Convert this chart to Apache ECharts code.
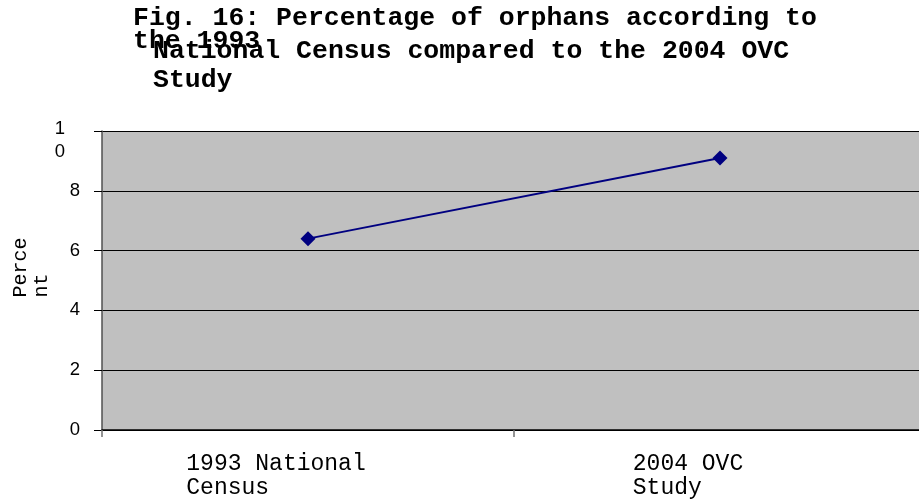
<!DOCTYPE html>
<html>
<head>
<meta charset="utf-8">
<script src="https://cdn.jsdelivr.net/npm/echarts@6/dist/echarts.min.js"></script>
<style>html,body{margin:0;padding:0;background:#fff;}#c{width:919px;height:499px;}</style>
</head>
<body>
<div id="c"></div>
<script>
var titleLine1 = 'Fig. 16: Percentage of orphans according to';
var titleLine2 = 'the 1993';
var titleLine3 = 'National Census compared to the 2004 OVC\nStudy';
var categories = ['1993 National Census', '2004 OVC Study'];
var xTickLabels = ['1993 National\nCensus', '2004 OVC\nStudy'];
var percentValues = [6.4, 9.1];
var yAxisName = 'Perce\nnt';

function padLines(s) {
  var lines = s.split('\n');
  var n = Math.max.apply(null, lines.map(function (l) { return l.length; }));
  return lines.map(function (l) { while (l.length < n) l += '\u00a0'; return l; }).join('\n');
}

var chart = echarts.init(document.getElementById('c'), null, {renderer: 'canvas'});
var mono = '"Liberation Mono", "Courier New", monospace';
var sans = '"Liberation Sans", Arial, sans-serif';
var titleStyle = {fontFamily: mono, fontWeight: 'bold', fontSize: 26.5, color: '#000', lineHeight: 29};
chart.setOption({
  animation: false,
  backgroundColor: '#fff',
  title: [
    {text: titleLine1, left: 133, top: 4, padding: 0, textStyle: titleStyle},
    {text: titleLine2, left: 133, top: 27, padding: 0, textStyle: titleStyle},
    {text: titleLine3, left: 153, top: 37, padding: 0, textStyle: titleStyle}
  ],
  grid: {left: 102, top: 131, width: 824, bottom: 69, show: true, backgroundColor: '#c0c0c0', borderWidth: 0, containLabel: false, outerBoundsMode: 'none'},
  xAxis: {
    type: 'category',
    data: categories,
    boundaryGap: true,
    axisLine: {lineStyle: {color: '#000', width: 1.5}},
    axisTick: {show: true, length: 7, alignWithLabel: false, lineStyle: {color: '#707070', width: 1.5}},
    axisLabel: {
      interval: 0,
      margin: 22,
      fontFamily: mono,
      fontSize: 23,
      lineHeight: 24,
      color: '#000',
      align: 'center',
      padding: [0, 64, 0, 0],
      formatter: function (v, i) { return padLines(xTickLabels[i]); }
    },
    splitLine: {show: false}
  },
  yAxis: {
    type: 'value',
    min: 0,
    max: 10,
    interval: 2,
    name: padLines(yAxisName),
    nameLocation: 'middle',
    nameRotate: 90,
    nameGap: 50,
    nameMoveOverlap: false,
    nameTextStyle: {fontFamily: mono, fontSize: 20, lineHeight: 21, color: '#000', padding: [0, 0, 0, 26]},
    axisLine: {show: true, lineStyle: {color: '#505050', width: 1.5}},
    axisTick: {show: true, length: 8, lineStyle: {color: '#000', width: 1}},
    axisLabel: {
      margin: 22,
      fontFamily: sans,
      fontSize: 18.5,
      lineHeight: 23,
      color: '#000',
      formatter: function (v) { return v === 10 ? '{c|}\n{a|1}\n{b|0}' : String(v); },
      rich: {
        c: {fontFamily: sans, fontSize: 18.5, color: '#000', lineHeight: 18},
        a: {fontFamily: sans, fontSize: 18.5, color: '#000', lineHeight: 23, padding: [0, 15, 0, 0]},
        b: {fontFamily: sans, fontSize: 18.5, color: '#000', lineHeight: 23, padding: [0, 15, 0, 0]}
      }
    },
    splitLine: {show: true, lineStyle: {color: '#000', width: 1}}
  },
  series: [{
    type: 'line',
    data: percentValues,
    symbol: 'diamond',
    symbolSize: 15,
    lineStyle: {color: '#000080', width: 2},
    itemStyle: {color: '#000080'}
  }]
});
</script>
</body>
</html>
